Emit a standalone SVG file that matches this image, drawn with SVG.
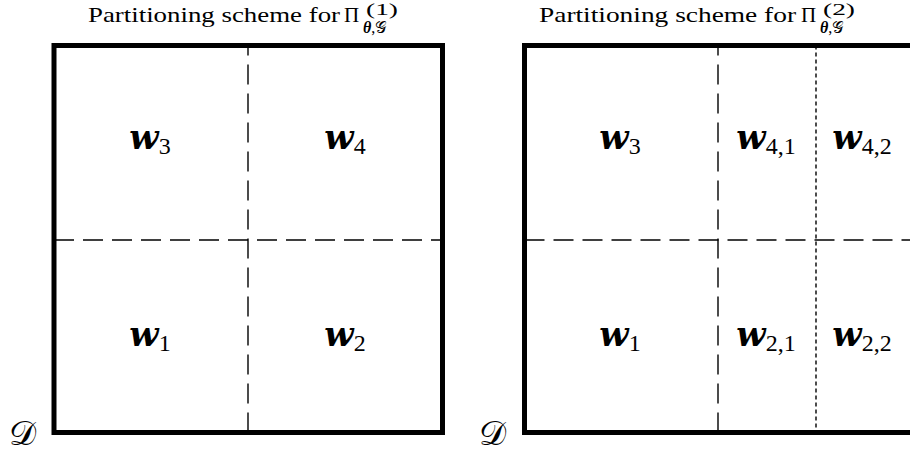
<svg xmlns="http://www.w3.org/2000/svg" width="910" height="456" viewBox="0 0 910 456">
<style>
.frame{fill:none;stroke:#000;stroke-width:5}
.dash{stroke:#000;stroke-width:1.4;stroke-dasharray:20 9;fill:none}
.dot{stroke:#000;stroke-width:1.4;stroke-dasharray:4 3;fill:none}
.title{font-family:"Liberation Serif",serif;font-size:21px;fill:#000}
.sup{font-family:"Liberation Serif",serif;font-size:16px;fill:#000}
.sb{font-family:"Liberation Serif",serif;font-size:16px;fill:#000}
.w{font-family:"DejaVu Serif",serif;font-weight:bold;font-style:italic;font-size:34px;fill:#000}
.sub{font-family:"Liberation Serif",serif;font-weight:normal;font-style:normal;font-size:24px}
.cal{font-family:"DejaVu Serif","Noto Sans",serif;font-size:34px;fill:#000}
</style>
<rect width="910" height="456" fill="#fff"/>
<g id="title1">
<text class="title" x="88" y="22" textLength="252" lengthAdjust="spacingAndGlyphs">Partitioning scheme for</text>
<text class="title" x="344" y="22">Π</text>
<text class="sup" x="366" y="15" textLength="32" lengthAdjust="spacingAndGlyphs">(1)</text>
<text class="sb" x="363" y="33"><tspan font-weight="bold" font-style="italic">θ</tspan>,<tspan>𝒢</tspan></text>
</g>
<g id="title2">
<text class="title" x="539" y="22" textLength="257" lengthAdjust="spacingAndGlyphs">Partitioning scheme for</text>
<text class="title" x="801" y="22">Π</text>
<text class="sup" x="823" y="15" textLength="32" lengthAdjust="spacingAndGlyphs">(2)</text>
<text class="sb" x="820" y="33"><tspan font-weight="bold" font-style="italic">θ</tspan>,<tspan>𝒢</tspan></text>
</g>
<g id="domain1">
<rect class="frame" x="54" y="45.5" width="388.5" height="387"/>
<text class="cal" x="9" y="445">𝒟</text>
</g>
<g id="domain2">
<rect class="frame" x="524.5" y="45.5" width="388.5" height="387"/>
<text class="cal" x="479" y="445">𝒟</text>
</g>
<g id="connectors">
<line class="dash" x1="54" y1="240" x2="442.5" y2="240"/>
<line class="dash" x1="248" y1="432.5" x2="248" y2="45.5"/>
<line class="dash" x1="524.5" y1="240" x2="913" y2="240"/>
<line class="dash" x1="718" y1="432.5" x2="718" y2="45.5"/>
<line class="dot" x1="816" y1="45.5" x2="816" y2="432.5"/>
</g>
<g id="w3a"><text class="w" x="150" y="149" text-anchor="middle">w<tspan class="sub" dy="5">3</tspan></text></g>
<g id="w4a"><text class="w" x="345" y="149" text-anchor="middle">w<tspan class="sub" dy="5">4</tspan></text></g>
<g id="w1a"><text class="w" x="150" y="346" text-anchor="middle">w<tspan class="sub" dy="5">1</tspan></text></g>
<g id="w2a"><text class="w" x="345" y="346" text-anchor="middle">w<tspan class="sub" dy="5">2</tspan></text></g>
<g id="w3b"><text class="w" x="620" y="149" text-anchor="middle">w<tspan class="sub" dy="5">3</tspan></text></g>
<g id="w41"><text class="w" x="766" y="149" text-anchor="middle">w<tspan class="sub" dy="5">4,1</tspan></text></g>
<g id="w42"><text class="w" x="862" y="149" text-anchor="middle">w<tspan class="sub" dy="5">4,2</tspan></text></g>
<g id="w1b"><text class="w" x="620" y="346" text-anchor="middle">w<tspan class="sub" dy="5">1</tspan></text></g>
<g id="w21"><text class="w" x="766" y="346" text-anchor="middle">w<tspan class="sub" dy="5">2,1</tspan></text></g>
<g id="w22"><text class="w" x="862" y="346" text-anchor="middle">w<tspan class="sub" dy="5">2,2</tspan></text></g>
</svg>
